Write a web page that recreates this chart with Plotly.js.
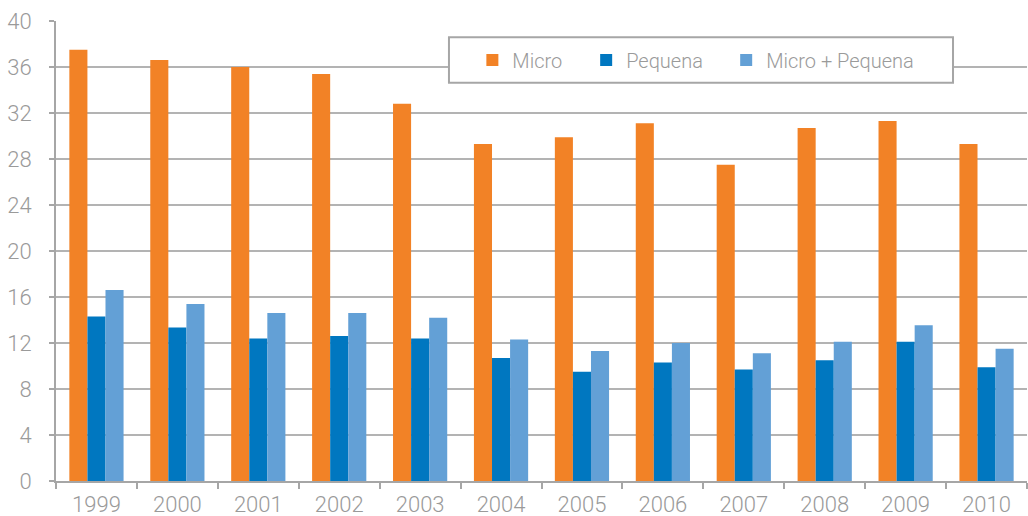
<!DOCTYPE html>
<html>
<head>
<meta charset="utf-8">
<script src="https://cdn.plot.ly/plotly-3.0.1.min.js"></script>
<style>
	html, body { margin: 0; padding: 0; background: #fff; }
	#chart1 { width: 1028px; height: 516px; }
</style>
</head>
<body>
<div id="chart1"></div>
<script>

var years = ['1999','2000','2001','2002','2003','2004','2005','2006','2007','2008','2009','2010'];
var micro = [37.5, 36.6, 36.0, 35.4, 32.8, 29.3, 29.9, 31.1, 27.5, 30.7, 31.3, 29.3];
var pequena = [14.3, 13.35, 12.4, 12.6, 12.4, 10.7, 9.5, 10.3, 9.7, 10.5, 12.1, 9.9];
var microPequena = [16.6, 15.4, 14.6, 14.6, 14.2, 12.3, 11.3, 12.0, 11.1, 12.1, 13.55, 11.5];

var grey = '#a6a6a6';
var textGrey = '#9a9a9a';
var fontName = 'Roboto, "DejaVu Sans Condensed", sans-serif';
var txtFont = { family: fontName, size: 22, color: textGrey, weight: 300 };
var legFont = { family: fontName, size: 20, color: textGrey, weight: 300 };

function barTrace(name, values, color, legendId) {
	return {
		x: years,
		y: values,
		name: name,
		type: 'bar',
		legend: legendId,
		marker: { color: color }
	};
}

var data = [
	barTrace('Micro', micro, '#f28226', 'legend'),
	barTrace('Pequena', pequena, '#0077c0', 'legend2'),
	barTrace('Micro + Pequena', microPequena, '#63a0d6', 'legend3')
];

// one legend per series so the entries sit where the original has them,
// the shared frame is a shape behind them
function legendAt(xpos) {
	return {
		orientation: 'h',
		x: xpos,
		y: 0.915,
		xanchor: 'left',
		yanchor: 'middle',
		bgcolor: 'rgba(0,0,0,0)',
		borderwidth: 0,
		font: legFont
	};
}

var layout = {
	width: 1028,
	height: 516,
	margin: { l: 56, r: 1, t: 21, b: 35 },
	paper_bgcolor: '#fff',
	plot_bgcolor: '#fff',
	font: txtFont,
	barmode: 'group',
	bargap: 0.33,
	bargroupgap: 0,
	showlegend: true,
	legend: legendAt(0.4288),
	legend2: legendAt(0.546),
	legend3: legendAt(0.6902),
	shapes: [{
		type: 'rect',
		xref: 'paper', yref: 'paper',
		x0: 0.4047, x1: 0.9238,
		y0: 0.8659, y1: 0.9646,
		fillcolor: '#fff',
		line: { color: grey, width: 2 },
		layer: 'above'
	}],
	xaxis: {
		type: 'category',
		showline: true,
		linecolor: grey,
		linewidth: 2,
		ticks: 'outside',
		tickson: 'boundaries',
		ticklen: 6,
		tickwidth: 2,
		tickcolor: grey,
		showgrid: false,
		ticklabelstandoff: 3,
		tickfont: txtFont
	},
	yaxis: {
		range: [0, 40],
		dtick: 4,
		showline: true,
		linecolor: grey,
		linewidth: 2,
		ticks: 'outside',
		ticklen: 5,
		tickwidth: 2,
		tickcolor: grey,
		showgrid: true,
		gridcolor: '#b3b3b3',
		gridwidth: 1.5,
		zeroline: false,
		ticklabelstandoff: 13,
		tickfont: txtFont
	}
};

Plotly.newPlot('chart1', data, layout, { displayModeBar: false, staticPlot: true });

</script>
</body>
</html>
